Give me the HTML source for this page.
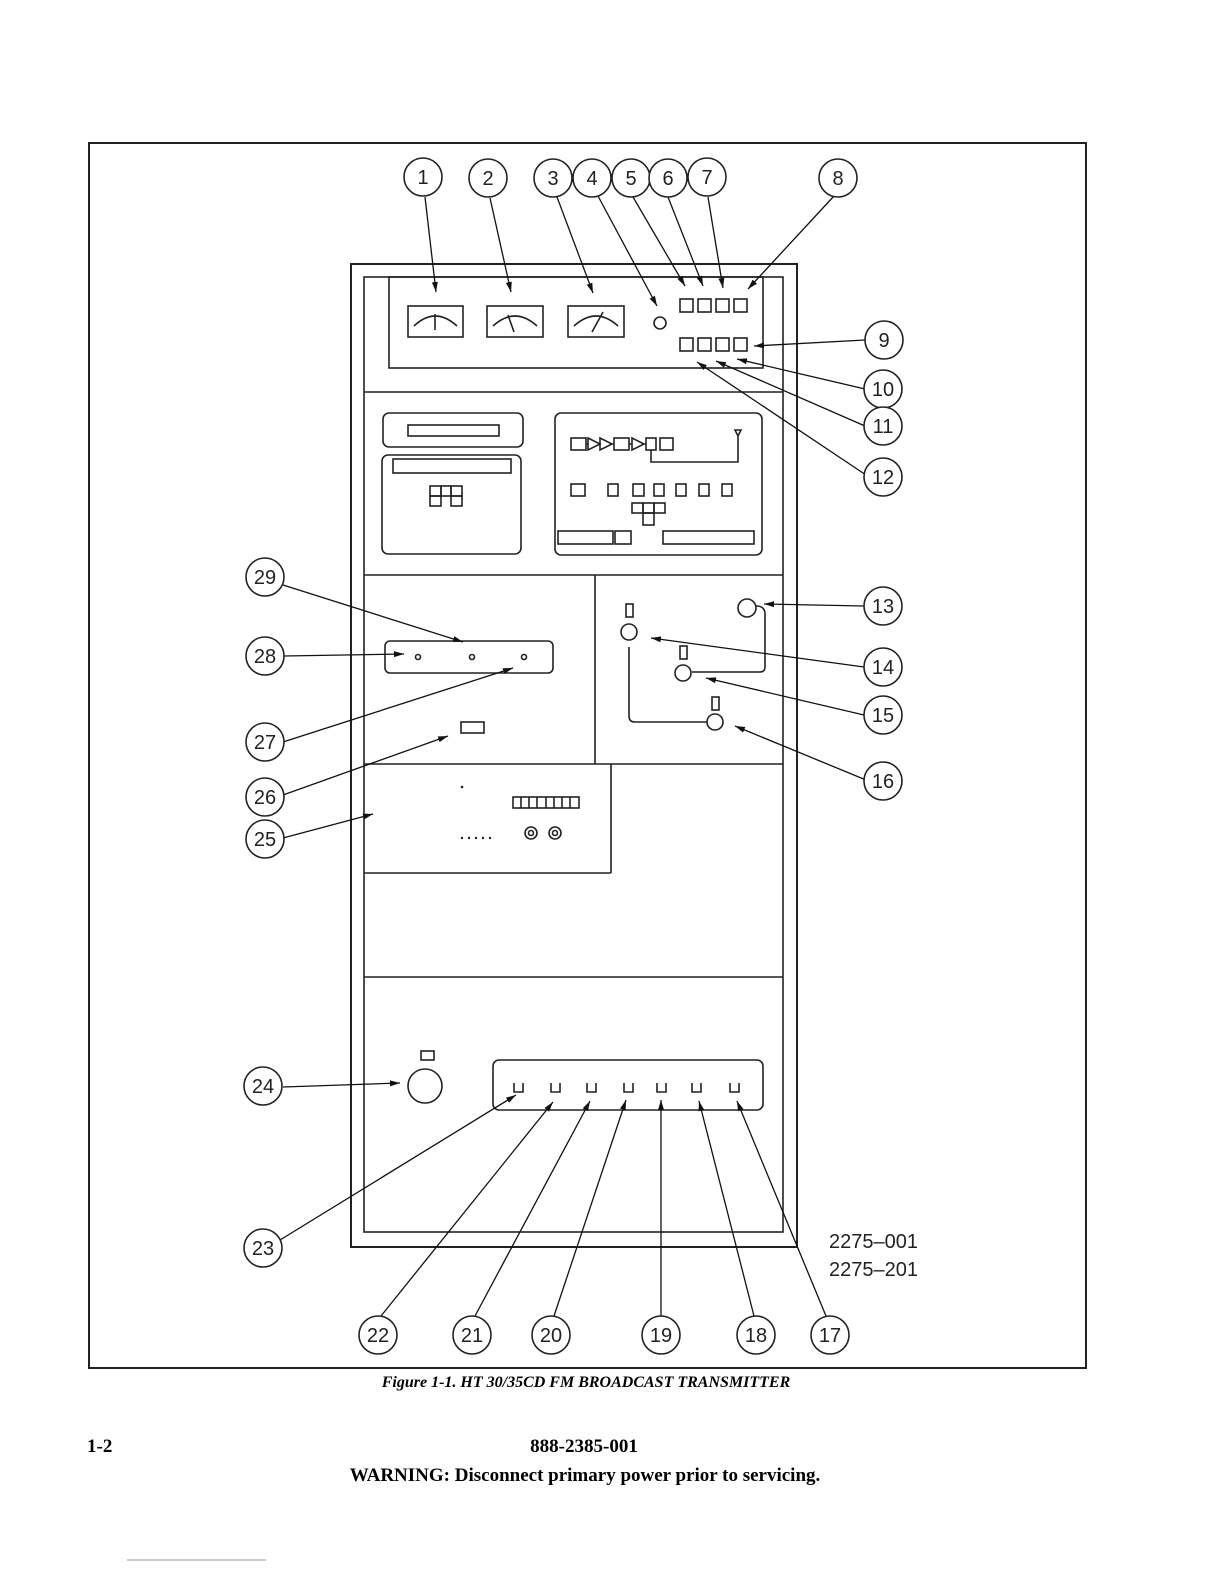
<!DOCTYPE html>
<html><head><style>
body{margin:0;background:#fff;}
svg{display:block;}
.t{font-family:"Liberation Sans",sans-serif;font-size:20px;}
.c{font-family:"Liberation Sans",sans-serif;font-size:20px;text-anchor:middle;}
</style></head><body>
<svg width="1224" height="1584" viewBox="0 0 1224 1584" xmlns="http://www.w3.org/2000/svg">
<defs><marker id="a" viewBox="0 0 10 6" refX="10" refY="3" markerWidth="10" markerHeight="6" markerUnits="userSpaceOnUse" orient="auto"><path d="M0,0L10,3L0,6z" fill="#111"/></marker></defs>
<g fill="none" stroke="#222" stroke-width="1.6">
<rect x="89" y="143" width="997" height="1225" stroke-width="2"/>
<rect x="351" y="264" width="446" height="983" stroke-width="2"/>
<rect x="364" y="277" width="419" height="955"/>
<rect x="389" y="277" width="374" height="91"/>
<line x1="364" y1="392" x2="783" y2="392"/>
<line x1="364" y1="575" x2="783" y2="575"/>
<line x1="595" y1="575" x2="595" y2="764"/>
<line x1="364" y1="764" x2="783" y2="764"/>
<line x1="611" y1="764" x2="611" y2="873"/>
<line x1="364" y1="873" x2="611" y2="873"/>
<line x1="364" y1="977" x2="783" y2="977"/>
<!-- meters -->
<rect x="408" y="306" width="55" height="31"/><path d="M414,326 Q435,306 457,326 M435,314 V330"/>
<rect x="487" y="306" width="56" height="31"/><path d="M493,326 Q515,306 537,326 M508,315 L514,332"/>
<rect x="568" y="306" width="56" height="31"/><path d="M574,326 Q596,306 618,326 M603,312 L592,332"/>
<circle cx="660" cy="323" r="6"/>
<rect x="680" y="299" width="13" height="13"/><rect x="698" y="299" width="13" height="13"/><rect x="716" y="299" width="13" height="13"/><rect x="734" y="299" width="13" height="13"/>
<rect x="680" y="338" width="13" height="13"/><rect x="698" y="338" width="13" height="13"/><rect x="716" y="338" width="13" height="13"/><rect x="734" y="338" width="13" height="13"/>
<!-- middle panels -->
<rect x="383" y="413" width="140" height="34" rx="6"/><rect x="408" y="425" width="91" height="11"/>
<rect x="382" y="455" width="139" height="99" rx="6"/><rect x="393" y="459" width="118" height="14"/>
<rect x="430" y="486" width="11" height="10"/><rect x="441" y="486" width="10" height="10"/><rect x="451" y="486" width="11" height="10"/><rect x="430" y="496" width="11" height="10"/><rect x="451" y="496" width="11" height="10"/>
<rect x="555" y="413" width="207" height="142" rx="6"/>
<rect x="571" y="438" width="15" height="12"/><path d="M586,444H588M588,438L600,444L588,450Z M600,438L612,444L600,450Z M612,444H614"/>
<rect x="614" y="438" width="15" height="12"/><path d="M629,444H632M632,438L644,444L632,450Z M644,444H646"/>
<rect x="646" y="438" width="10" height="12"/><rect x="660" y="438" width="13" height="12"/>
<path d="M651,450V462H738V434M735,430L738,436L741,430Z"/>
<rect x="571" y="484" width="14" height="12"/><rect x="608" y="484" width="10" height="12"/><rect x="633" y="484" width="11" height="12"/><rect x="654" y="484" width="10" height="12"/><rect x="676" y="484" width="10" height="12"/><rect x="699" y="484" width="10" height="12"/><rect x="722" y="484" width="10" height="12"/>
<rect x="632" y="503" width="11" height="10"/><rect x="643" y="503" width="11" height="10"/><rect x="654" y="503" width="11" height="10"/><rect x="643" y="513" width="11" height="12"/>
<rect x="558" y="531" width="55" height="13"/><rect x="615" y="531" width="16" height="13"/><rect x="663" y="531" width="91" height="13"/>
<!-- panel 28 -->
<rect x="385" y="641" width="168" height="32" rx="5"/>
<circle cx="418" cy="657" r="2.5"/><circle cx="472" cy="657" r="2.5"/><circle cx="524" cy="657" r="2.5"/>
<rect x="461" y="722" width="23" height="11"/>
<!-- right panel -->
<rect x="626" y="604" width="7" height="13"/><circle cx="629" cy="632" r="8"/>
<rect x="680" y="646" width="7" height="13"/><circle cx="683" cy="673" r="8"/>
<rect x="712" y="697" width="7" height="13"/><circle cx="715" cy="722" r="8"/>
<circle cx="747" cy="608" r="9"/>
<path d="M756,606Q765,606 765,614V667Q765,672 760,672H692"/>
<path d="M629,647V716Q629,722 635,722H707"/>
<!-- panel 25 -->
<rect x="513" y="797" width="66" height="11"/><path d="M521,797V808M529,797V808M537,797V808M546,797V808M554,797V808M562,797V808M570,797V808"/>
<circle cx="531" cy="833" r="6"/><circle cx="531" cy="833" r="2.5"/><circle cx="555" cy="833" r="6"/><circle cx="555" cy="833" r="2.5"/>
<!-- bottom -->
<rect x="421" y="1051" width="13" height="9"/><circle cx="425" cy="1086" r="17"/>
<rect x="493" y="1060" width="270" height="50" rx="6"/>
<path d="M514,1083V1092H523V1083 M551,1083V1092H560V1083 M587,1083V1092H596V1083 M624,1083V1092H633V1083 M657,1083V1092H666V1083 M692,1083V1092H701V1083 M730,1083V1092H739V1083"/>
</g>
<g fill="#222"><circle cx="462" cy="787" r="1.3"/><circle cx="462" cy="838" r="1.2"/><circle cx="469" cy="838" r="1.2"/><circle cx="476" cy="838" r="1.2"/><circle cx="483" cy="838" r="1.2"/><circle cx="490" cy="838" r="1.2"/></g>
<!-- leaders -->
<g stroke="#111" stroke-width="1.3" marker-end="url(#a)">
<line x1="425" y1="197" x2="436" y2="292"/>
<line x1="490" y1="198" x2="511" y2="292"/>
<line x1="557" y1="197" x2="593" y2="293"/>
<line x1="598" y1="196" x2="657" y2="306"/>
<line x1="633" y1="197" x2="685" y2="286"/>
<line x1="668" y1="197" x2="703" y2="286"/>
<line x1="708" y1="197" x2="723" y2="288"/>
<line x1="834" y1="196" x2="748" y2="289"/>
<line x1="865" y1="340" x2="754" y2="346"/>
<line x1="865" y1="389" x2="737" y2="359"/>
<line x1="865" y1="426" x2="716" y2="361"/>
<line x1="866" y1="475" x2="697" y2="362"/>
<line x1="864" y1="606" x2="764" y2="604"/>
<line x1="864" y1="667" x2="651" y2="638"/>
<line x1="864" y1="715" x2="706" y2="678"/>
<line x1="866" y1="780" x2="735" y2="726"/>
<line x1="283" y1="585" x2="463" y2="642"/>
<line x1="284" y1="656" x2="404" y2="654"/>
<line x1="283" y1="742" x2="513" y2="668"/>
<line x1="283" y1="795" x2="448" y2="736"/>
<line x1="283" y1="838" x2="373" y2="814"/>
<line x1="283" y1="1087" x2="400" y2="1083"/>
<line x1="280" y1="1240" x2="516" y2="1095"/>
<line x1="381" y1="1316" x2="553" y2="1102"/>
<line x1="475" y1="1316" x2="590" y2="1101"/>
<line x1="554" y1="1316" x2="626" y2="1100"/>
<line x1="661" y1="1316" x2="661" y2="1100"/>
<line x1="754" y1="1316" x2="699" y2="1101"/>
<line x1="826" y1="1316" x2="737" y2="1101"/>
</g>
<g fill="#fff" stroke="#222" stroke-width="1.6">
<circle cx="423" cy="177" r="19"/><circle cx="488" cy="178" r="19"/><circle cx="553" cy="178" r="19"/><circle cx="592" cy="178" r="19"/><circle cx="631" cy="178" r="19"/><circle cx="668" cy="178" r="19"/><circle cx="707" cy="177" r="19"/><circle cx="838" cy="178" r="19"/>
<circle cx="884" cy="340" r="19"/><circle cx="883" cy="389" r="19"/><circle cx="883" cy="426" r="19"/><circle cx="883" cy="477" r="19"/>
<circle cx="883" cy="606" r="19"/><circle cx="883" cy="667" r="19"/><circle cx="883" cy="715" r="19"/><circle cx="883" cy="781" r="19"/>
<circle cx="265" cy="577" r="19"/><circle cx="265" cy="656" r="19"/><circle cx="265" cy="742" r="19"/><circle cx="265" cy="797" r="19"/><circle cx="265" cy="839" r="19"/>
<circle cx="263" cy="1086" r="19"/><circle cx="263" cy="1248" r="19"/>
<circle cx="378" cy="1335" r="19"/><circle cx="472" cy="1335" r="19"/><circle cx="551" cy="1335" r="19"/><circle cx="661" cy="1335" r="19"/><circle cx="756" cy="1335" r="19"/><circle cx="830" cy="1335" r="19"/>
</g>
<g class="c" fill="#222">
<text x="423" y="184">1</text><text x="488" y="185">2</text><text x="553" y="185">3</text><text x="592" y="185">4</text><text x="631" y="185">5</text><text x="668" y="185">6</text><text x="707" y="184">7</text><text x="838" y="185">8</text>
<text x="884" y="347">9</text><text x="883" y="396">10</text><text x="883" y="433">11</text><text x="883" y="484">12</text>
<text x="883" y="613">13</text><text x="883" y="674">14</text><text x="883" y="722">15</text><text x="883" y="788">16</text>
<text x="265" y="584">29</text><text x="265" y="663">28</text><text x="265" y="749">27</text><text x="265" y="804">26</text><text x="265" y="846">25</text>
<text x="263" y="1093">24</text><text x="263" y="1255">23</text>
<text x="378" y="1342">22</text><text x="472" y="1342">21</text><text x="551" y="1342">20</text><text x="661" y="1342">19</text><text x="756" y="1342">18</text><text x="830" y="1342">17</text>
</g>
<text class="t" x="829" y="1248" fill="#222">2275–001</text>
<text class="t" x="829" y="1276" fill="#222">2275–201</text>
<text x="586" y="1387" text-anchor="middle" font-family="Liberation Serif,serif" font-size="16" font-weight="bold" font-style="italic">Figure 1-1. HT 30/35CD FM BROADCAST TRANSMITTER</text>
<text x="87" y="1452" font-family="Liberation Serif,serif" font-size="19" font-weight="bold">1-2</text>
<text x="584" y="1452" text-anchor="middle" font-family="Liberation Serif,serif" font-size="19" font-weight="bold">888-2385-001</text>
<text x="585" y="1481" text-anchor="middle" font-family="Liberation Serif,serif" font-size="19" font-weight="bold">WARNING:  Disconnect primary power prior to servicing.</text>
<line x1="127" y1="1560" x2="266" y2="1560" stroke="#99a" stroke-width="1"/>
</svg>
</body></html>
